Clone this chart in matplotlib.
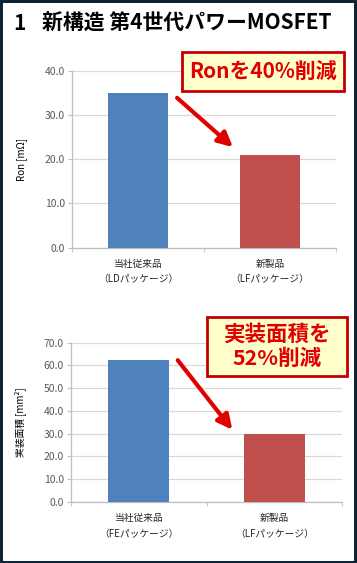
"""新構造 第4世代パワーMOSFET の比較チャート。"""
import matplotlib
matplotlib.use("Agg")
import matplotlib.pyplot as plt
from matplotlib.patches import Rectangle, FancyArrowPatch

plt.rcParams["font.family"] = ["Noto Sans CJK JP", "DejaVu Sans"]

# --- data ---
ron_labels = ["当社従来品\n（LDパッケージ）", "新製品\n（LFパッケージ）"]
ron_values = [35.0, 21.0]
area_labels = ["当社従来品\n（FEパッケージ）", "新製品\n（LFパッケージ）"]
area_values = [62.5, 30.0]
bar_colors = ["#4F81BD", "#C0504D"]

W, H = 357, 563
fig = plt.figure(figsize=(W / 100, H / 100), dpi=100)
fig.patch.set_facecolor("#0E2435")
fig.add_artist(Rectangle((3 / W, 2 / H), 351 / W, 558 / H, transform=fig.transFigure,
                         facecolor="white", edgecolor="none", zorder=0))


def fx(px):
    return px / W


def fy(py):
    return 1 - py / H


def bar_chart(rect, labels, values, ymax, step, ylabel, label_x):
    ax = fig.add_axes(rect)
    x = range(len(values))
    ax.bar(x, values, width=0.45, color=bar_colors, zorder=3)
    ax.set_xlim(-0.5, 1.5)
    ax.set_ylim(0, ymax)
    n = int(ymax / step) + 1
    ax.set_yticks([i * step for i in range(n)])
    ax.set_yticklabels([f"{i * step:.1f}" for i in range(n)],
                       fontsize=7.5, color="#595959")
    ax.set_xticks(list(x))
    ax.set_xticklabels(labels, fontsize=7, color="#262626", linespacing=1.7)
    ax.set_xticks([-0.5, 0.5, 1.5], minor=True)
    ax.tick_params(axis="x", which="major", length=0, pad=8)
    ax.tick_params(axis="x", which="minor", length=3, color="#BFBFBF")
    ax.tick_params(axis="y", length=3, color="#BFBFBF", pad=2)
    ax.grid(axis="y", color="#D9D9D9", linewidth=0.9, zorder=0)
    for s in ["top", "right"]:
        ax.spines[s].set_visible(False)
    for s in ["left", "bottom"]:
        ax.spines[s].set_color("#BFBFBF")
        ax.spines[s].set_linewidth(0.9)
    ax.set_ylabel(ylabel, fontsize=7, color="#000000")
    ax.yaxis.set_label_coords(label_x, 0.5)
    return ax


bar_chart([fx(72), fy(247.7), fx(264), 177 / H], ron_labels, ron_values,
          40, 10, "Ron [mΩ]", -0.17)
bar_chart([fx(71), fy(502), fx(271), 159.3 / H], area_labels, area_values,
          70, 10, "実装面積 [mm²]", -0.165)

# title
fig.text(fx(13), fy(23), "1", fontsize=15, fontweight="bold", va="center")
fig.text(fx(42), fy(23), "新構造 第4世代パワーMOSFET", fontsize=15,
         fontweight="bold", va="center")

# callouts
def callout(x0, y0, x1, y1, text, size):
    fig.add_artist(Rectangle((fx(x0), fy(y1)), (x1 - x0) / W, (y1 - y0) / H,
                             transform=fig.transFigure, facecolor="#FFFFCC",
                             edgecolor="#C00000", linewidth=2, zorder=5))
    fig.text(fx((x0 + x1) / 2), fy((y0 + y1) / 2), text, fontsize=size,
             fontweight="bold", color="#E00000", ha="center", va="center",
             linespacing=1.22, zorder=6)


def red_arrow(x0, y0, x1, y1):
    fig.add_artist(FancyArrowPatch((fx(x0), fy(y0)), (fx(x1), fy(y1)),
                                   transform=fig.transFigure, arrowstyle="-|>",
                                   mutation_scale=22, linewidth=3,
                                   color="#E00000", zorder=6))


callout(182, 52, 344, 91, "Ronを40%削減", 15)
red_arrow(175, 96, 235, 149)
callout(207, 317, 347, 376, "実装面積を\n52%削減", 15.5)
red_arrow(176, 358, 234, 432)

fig.savefig("out.png", dpi=100, facecolor=fig.get_facecolor())
